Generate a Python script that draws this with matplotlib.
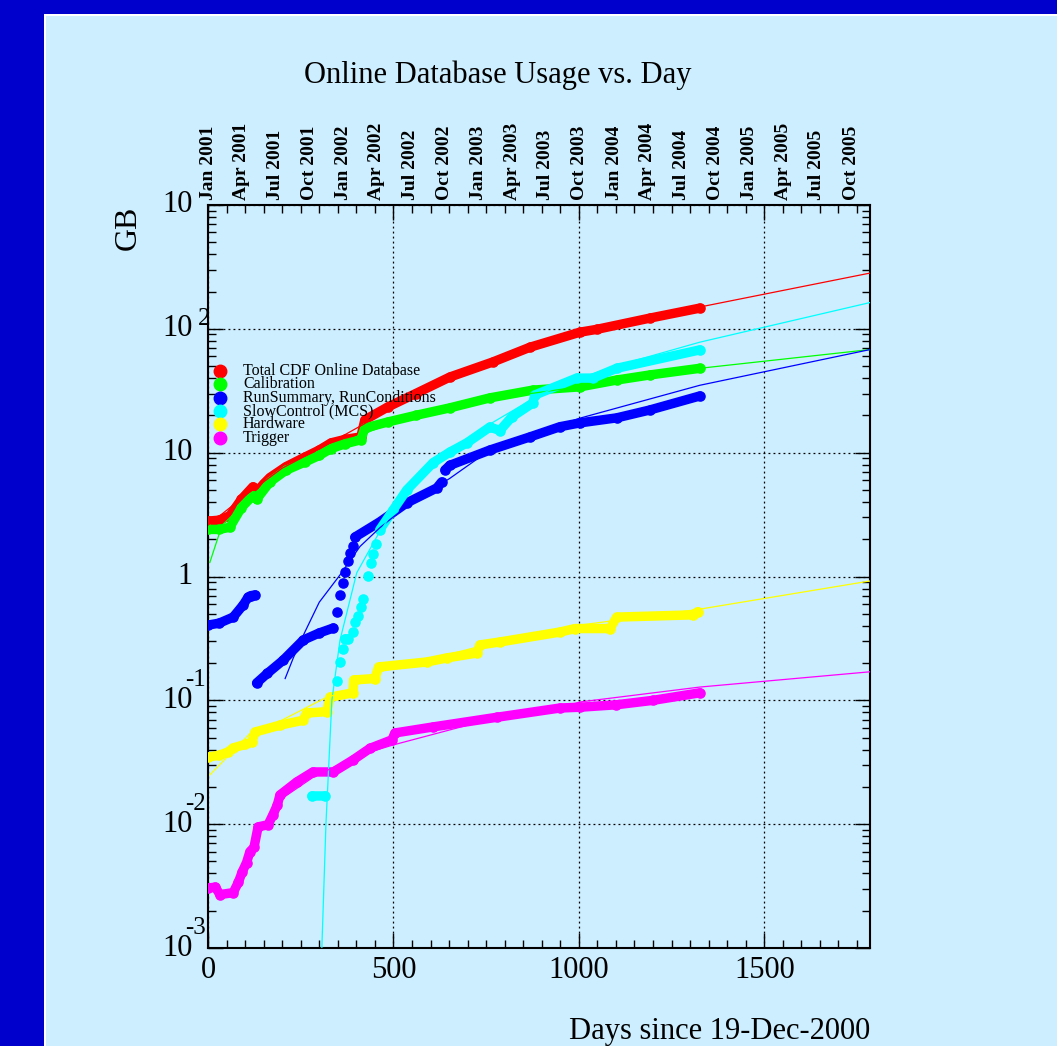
"""
Online Database Usage vs. Day - log plot of database size per subsystem.
"""
import numpy as np
import matplotlib
matplotlib.use('Agg')
import matplotlib.pyplot as plt
from matplotlib.patches import Rectangle
from matplotlib.ticker import MultipleLocator, LogLocator, NullFormatter

plt.rcParams['font.family'] = ['Liberation Serif', 'DejaVu Serif']

nan = np.nan

# ---- data (days since 19-Dec-2000, GB) ----
series_names = ['Total CDF Online Database', 'Calibration',
                'RunSummary, RunConditions', 'SlowControl (MCS)',
                'Hardware', 'Trigger']
series_colors = ['#ff0000', '#00ff00', '#0000ff', '#00ffff', '#ffff00', '#ff00ff']

total_days = [0, 30, 59, 90, 121, 131, 150, 167, 210, 261, 300, 332, 370, 412,
              423, 485, 560, 652, 768, 868, 1003, 1048, 1191, 1326]
total_gb = [2.8, 2.85, 3.1, 4.2, 5.3, 4.8, 5.6, 6.3, 7.7, 9.2, 10.5, 12.0, 12.8, 13.4,
            18.4, 23.4, 30.0, 40.8, 54.0, 71.0, 94.0, 99.0, 122.0, 147.0]

calib_days = [0, 30, 59, 90, 121, 131, 167, 210, 261, 300, 332, 370, 412,
              423, 485, 560, 652, 760, 876, 1003, 1102, 1191, 1326]
calib_gb = [2.4, 2.4, 2.5, 3.6, 4.5, 4.2, 5.8, 7.2, 8.4, 9.5, 10.8, 11.8, 12.7,
            15.8, 17.7, 20.0, 23.0, 27.7, 32.0, 34.0, 38.6, 42.4, 48.0]

runsum_days = [0, 30, 68, 95, 108, 115, 127, nan,
               131, 160, 202, 257, 300, 338, nan,
               347, nan, 356, nan, 363, nan, 369, nan, 377, nan, 383, nan, 390, nan,
               396, 463, 536, 617, 630, nan,
               639, 652, 760, 868, 949, 1003, 1102, 1191, 1326]
runsum_gb = [0.405, 0.42, 0.47, 0.59, 0.68, 0.70, 0.71, nan,
             0.138, 0.165, 0.21, 0.307, 0.35, 0.384, nan,
             0.52, nan, 0.71, nan, 0.89, nan, 1.09, nan, 1.33, nan, 1.55, nan, 1.76, nan,
             2.08, 2.76, 3.93, 5.19, 5.8, nan,
             7.25, 7.9, 10.5, 13.4, 16.2, 17.4, 19.1, 22.1, 28.7]

slow_days = [280, 315, nan,
             347, nan, 356, nan, 363, nan, 369, 378, nan, 390, nan, 396, nan, 405, nan,
             412, nan, 419, nan, 432, nan, 440, nan, 445, nan, 453, nan,
             463, 499, 536, 607, 652, 698, 760, 787, 819, 876, 881, 994, 1038, 1102, 1326]
slow_gb = [0.0169, 0.0169, nan,
           0.143, nan, 0.204, nan, 0.26, nan, 0.313, 0.313, nan, 0.356, nan, 0.43, nan,
           0.48, nan, 0.57, nan, 0.66, nan, 1.01, nan, 1.29, nan, 1.51, nan, 1.82, nan,
           2.38, 3.44, 5.0, 8.3, 10.1, 12.0, 16.1, 15.1, 19.4, 25.2, 29.2, 40.0, 40.0,
           48.0, 67.6]

hw_days = [0, 30, 54, 68, 100, 118, 127, 194, 256, 266, 320, 329, 391, 393, 450,
           460, 590, 644, 725, 733, 787, 949, 990, 1084, 1102, 1307, 1321]
hw_gb = [0.0348, 0.036, 0.0383, 0.0413, 0.044, 0.0461, 0.0555, 0.063, 0.069, 0.079,
         0.081, 0.106, 0.115, 0.146, 0.15, 0.186, 0.204, 0.22, 0.241, 0.28, 0.296,
         0.356, 0.38, 0.38, 0.47, 0.49, 0.52]

trig_days = [0, 20, 32, 68, 82, 92, 104, 113, 124, 135, 162, 175, 187, 194, 239,
             283, 338, 391, 437, 496, 504, 607, 779, 949, 1003, 1100, 1200, 1326]
trig_gb = [0.00305, 0.0031, 0.0027, 0.0028, 0.0034, 0.0041, 0.0049, 0.006, 0.0065,
           0.0095, 0.0099, 0.0119, 0.0143, 0.0172, 0.0219, 0.0264, 0.0264, 0.033,
           0.041, 0.048, 0.0545, 0.061, 0.073, 0.0867, 0.088, 0.092, 0.100, 0.115]

# ---- fitted trend curves (thin lines) ----
total_fit_days = [0, 100, 200, 330, 420, 500, 680, 1000, 1326, 1785]
total_fit_gb = [2.6, 4.5, 7.5, 12.0, 17.0, 24.0, 45.0, 93.0, 150.0, 282.0]

calib_fit_days = [5, 38, 60, 120, 200, 300, 400, 500, 700, 1000, 1326, 1785]
calib_fit_gb = [1.3, 2.6, 3.0, 4.6, 7.0, 9.5, 13.5, 17.5, 25.5, 34.0, 48.0, 68.0]

runsum_fit_days = [208, 230, 260, 300, 356, 410, 463, 550, 652, 760, 1003, 1326, 1785]
runsum_fit_gb = [0.15, 0.22, 0.35, 0.62, 1.03, 1.75, 2.47, 4.0, 6.2, 10.5, 19.0, 35.0,
                 68.0]

slow_fit_days = [307, 318, 334, 356, 401, 455, 500, 600, 700, 760, 900, 1000, 1156,
                 1326, 1785]
slow_fit_gb = [0.001, 0.01, 0.1, 0.307, 1.07, 2.09, 3.4, 8.0, 12.5, 17.0, 30.0, 40.0,
               56.0, 78.0, 163.0]

hw_fit_days = [5, 121, 186, 320, 364, 463, 517, 787, 1003, 1318, 1785]
hw_fit_gb = [0.025, 0.057, 0.066, 0.106, 0.115, 0.17, 0.186, 0.30, 0.405, 0.54, 0.92]

trig_fit_days = [113, 194, 293, 428, 499, 700, 949, 1003, 1326, 1785]
trig_fit_gb = [0.0065, 0.0157, 0.025, 0.0376, 0.0436, 0.063, 0.0867, 0.097, 0.128, 0.17]

# ---- top axis calendar labels ----
quarter_dates = ['2001-01-01', '2001-04-01', '2001-07-01', '2001-10-01',
                 '2002-01-01', '2002-04-01', '2002-07-01', '2002-10-01',
                 '2003-01-01', '2003-04-01', '2003-07-01', '2003-10-01',
                 '2004-01-01', '2004-04-01', '2004-07-01', '2004-10-01',
                 '2005-01-01', '2005-04-01', '2005-07-01', '2005-10-01']
quarter_labels = ['Jan 2001', 'Apr 2001', 'Jul 2001', 'Oct 2001',
                  'Jan 2002', 'Apr 2002', 'Jul 2002', 'Oct 2002',
                  'Jan 2003', 'Apr 2003', 'Jul 2003', 'Oct 2003',
                  'Jan 2004', 'Apr 2004', 'Jul 2004', 'Oct 2004',
                  'Jan 2005', 'Apr 2005', 'Jul 2005', 'Oct 2005']

# y tick labels, ROOT style: mantissa + separate exponent
ytick_values = [1e3, 1e2, 1e1, 1e0, 1e-1, 1e-2, 1e-3]
ytick_mantissa = ['10', '10', '10', '1', '10', '10', '10']
ytick_exponent = ['', '2', '', '', '-1', '-2', '-3']

data = [(total_days, total_gb), (calib_days, calib_gb), (runsum_days, runsum_gb),
        (slow_days, slow_gb), (hw_days, hw_gb), (trig_days, trig_gb)]
fits = [(total_fit_days, total_fit_gb), (calib_fit_days, calib_fit_gb),
        (runsum_fit_days, runsum_fit_gb), (slow_fit_days, slow_fit_gb),
        (hw_fit_days, hw_fit_gb), (trig_fit_days, trig_fit_gb)]

PANEL = '#cceeff'
W, H = 1057, 1046

fig = plt.figure(figsize=(W / 100, H / 100), dpi=100, facecolor='#0000cc')
# light canvas with a thin white edge
fig.patches.append(Rectangle((44 / W, 0), 1, 1 - 14 / H, transform=fig.transFigure,
                             facecolor='white', edgecolor='none', zorder=-2))
fig.patches.append(Rectangle((46 / W, 0), 1, 1 - 16 / H, transform=fig.transFigure,
                             facecolor=PANEL, edgecolor='none', zorder=-1))

ax = fig.add_axes([208 / W, 1 - 948 / H, 662 / W, 743 / H])
ax.set_facecolor(PANEL)
ax.set_yscale('log')
ax.set_xlim(0, 1785)
ax.set_ylim(1e-3, 1e3)

# data bands (dense daily points drawn as thick dotted bands)
for (d, g), c in zip(data, series_colors):
    ax.plot(d, g, color=c, lw=6.8, marker='o', ms=6.6, mec=c, mfc=c,
            solid_capstyle='round', solid_joinstyle='round', zorder=3)

# fitted curves on top
for (d, g), c in zip(fits, series_colors):
    ax.plot(d, g, color=c, lw=0.9, zorder=4)

# grid and ticks
ax.xaxis.set_major_locator(MultipleLocator(500))
ax.xaxis.set_minor_locator(MultipleLocator(50))
ax.yaxis.set_major_locator(LogLocator(base=10, numticks=10))
ax.yaxis.set_minor_locator(LogLocator(base=10, subs=np.arange(2, 10), numticks=100))
ax.yaxis.set_major_formatter(NullFormatter())
ax.yaxis.set_minor_formatter(NullFormatter())
ax.grid(True, which='major', color='black', linestyle=(0, (1.5, 2.5)), lw=0.9)
ax.tick_params(which='both', direction='in', top=True, right=True, width=1.0)
ax.tick_params(which='major', length=11)
ax.tick_params(which='minor', length=5.5)
ax.tick_params(axis='x', labelsize=22, pad=6)
for s in ax.spines.values():
    s.set_linewidth(1.5)

for v, m, e in zip(ytick_values, ytick_mantissa, ytick_exponent):
    y = ax.transAxes.inverted().transform(ax.transData.transform((0, v)))[1]
    ax.text(-0.023, y, m, transform=ax.transAxes, ha='right', va='center', fontsize=22)
    if e.startswith('-'):
        ax.text(-0.003, y + 0.027, e, transform=ax.transAxes, ha='right', va='center',
                fontsize=18)
    elif e:
        ax.text(-0.016, y + 0.013, e, transform=ax.transAxes, ha='left', va='center',
                fontsize=18)

# top calendar axis
base = np.datetime64('2001-01-01')
for ds, lab in zip(quarter_dates, quarter_labels):
    day = (np.datetime64(ds) - base).astype(int)
    ax.text(day, 1.007, lab, transform=ax.get_xaxis_transform(), rotation=90,
            ha='center', va='bottom', fontsize=14, fontweight='bold')

# legend, tightly packed like the original
for i, (name, c) in enumerate(zip(series_names, series_colors)):
    yy = 0.7765 - i * 0.0179
    ax.plot(0.018, yy, 'o', color=c, ms=9, transform=ax.transAxes, clip_on=False,
            zorder=5)
    ax.text(0.053, yy, name, transform=ax.transAxes, ha='left', va='center',
            fontsize=11.5, zorder=5)

fig.text(498 / W, 1 - 75 / H, 'Online Database Usage vs. Day', ha='center',
         va='center', fontsize=22)
fig.text(128 / W, 1 - 228 / H, 'GB', rotation=90, ha='center', va='center',
         fontsize=23)
fig.text(870 / W, 1 - 1017 / H, 'Days since 19-Dec-2000', ha='right', va='top',
         fontsize=22)

fig.savefig('out.png', dpi=100, facecolor=fig.get_facecolor())
